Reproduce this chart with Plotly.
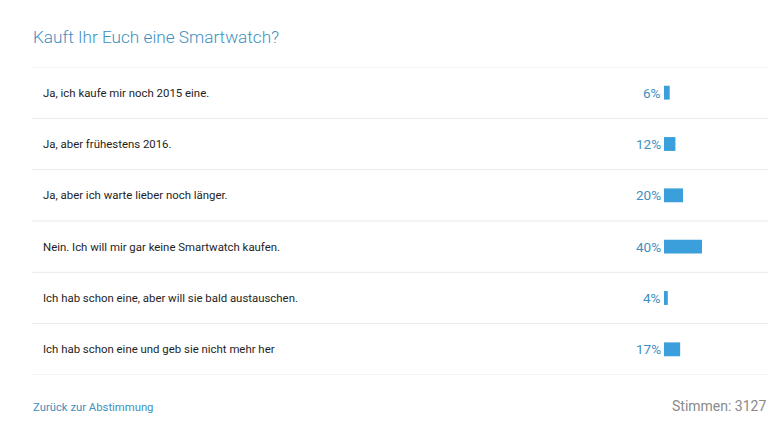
import plotly.graph_objects as go

categories = [
    "Ja, ich kaufe mir noch 2015 eine.",
    "Ja, aber frühestens 2016.",
    "Ja, aber ich warte lieber noch länger.",
    "Nein. Ich will mir gar keine Smartwatch kaufen.",
    "Ich hab schon eine, aber will sie bald austauschen.",
    "Ich hab schon eine und geb sie nicht mehr her",
]
percent = [6, 12, 20, 40, 4, 17]
title_text = "Kauft Ihr Euch eine Smartwatch?"
back_link = "Zurück zur Abstimmung"
votes_label = "Stimmen: 3127"

W, H = 782, 440
BLUE = "#3d8fc0"
BAR = "#3a9fdb"
FONT = "Roboto"

fig = go.Figure()
fig.add_trace(go.Bar(
    x=percent, y=categories, orientation="h",
    marker=dict(color=BAR, line=dict(width=0)),
    width=0.27, hoverinfo="skip",
))

row_top, row_bot = 67, 375
x0_px = 664
px_per_pct = 0.95

fig.update_layout(
    width=W, height=H,
    margin=dict(l=0, r=0, t=0, b=0),
    paper_bgcolor="white", plot_bgcolor="white",
    showlegend=False,
    font=dict(family=FONT),
    xaxis=dict(domain=[x0_px / W, (x0_px + 100 * px_per_pct) / W], range=[0, 100],
               visible=False, fixedrange=True),
    yaxis=dict(domain=[1 - row_bot / H, 1 - row_top / H], range=[len(categories) - 0.5, -0.5],
               visible=False, fixedrange=True, type="category",
               categoryorder="array", categoryarray=categories),
)

shapes = []
for i in range(len(categories) + 1):
    shapes.append(dict(type="line", xref="paper", yref="y",
                       x0=32 / W, x1=768 / W, y0=i - 0.5, y1=i - 0.5,
                       line=dict(color="#e9e9e9", width=1)))
fig.update_layout(shapes=shapes)

ann = []
for c, p in zip(categories, percent):
    ann.append(dict(xref="paper", yref="y", x=41 / W, y=c, text=c, showarrow=False,
                    xanchor="left", yanchor="middle",
                    font=dict(family=FONT, size=11.4, color="#1e1e1e")))
    ann.append(dict(xref="paper", yref="y", x=663 / W, y=c, text=f"{p}%", showarrow=False,
                    xanchor="right", yanchor="middle",
                    font=dict(family=FONT, size=13.5, color=BLUE)))
ann.append(dict(xref="paper", yref="paper", x=31 / W, y=1 - 37 / H, text=title_text,
                showarrow=False, xanchor="left", yanchor="middle",
                font=dict(family=FONT, size=17.2, color=BLUE, weight=300)))
ann.append(dict(xref="paper", yref="paper", x=31 / W, y=1 - 407 / H, text=back_link,
                showarrow=False, xanchor="left", yanchor="middle",
                font=dict(family=FONT, size=11.3, color=BLUE)))
ann.append(dict(xref="paper", yref="paper", x=768 / W, y=1 - 406 / H, text=votes_label,
                showarrow=False, xanchor="right", yanchor="middle",
                font=dict(family=FONT, size=14, color="#8a8a8a")))
fig.update_layout(annotations=ann)

fig.write_html("out.html", config={"displayModeBar": False},
               post_script="document.body.style.margin='0';document.body.style.overflow='hidden';")
